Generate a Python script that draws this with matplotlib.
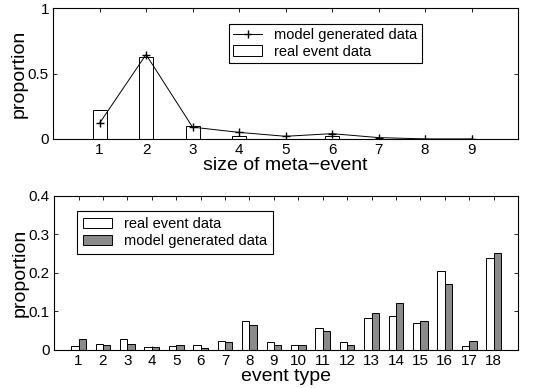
import numpy as np
import matplotlib
matplotlib.use('Agg')
import matplotlib.pyplot as plt

plt.rcParams['font.family'] = ['Liberation Sans', 'DejaVu Sans']

# top panel: size of meta-event
sizes = [1, 2, 3, 4, 5, 6, 7, 8, 9]
real_size = [0.22, 0.63, 0.10, 0.025, 0.0, 0.025, 0.0, 0.0, 0.0]
model_size = [0.12, 0.645, 0.09, 0.05, 0.02, 0.04, 0.01, 0.0, 0.0]

# bottom panel: event type
types = list(range(1, 19))
real_type = [0.011, 0.016, 0.029, 0.009, 0.010, 0.014, 0.023, 0.076, 0.021,
             0.012, 0.058, 0.022, 0.084, 0.088, 0.070, 0.204, 0.010, 0.238]
model_type = [0.028, 0.014, 0.015, 0.008, 0.013, 0.005, 0.020, 0.064, 0.012,
              0.014, 0.049, 0.014, 0.095, 0.121, 0.076, 0.171, 0.023, 0.252]

fig = plt.figure(figsize=(5.47, 3.88), dpi=100)
ax1 = fig.add_axes([0.097, 0.642, 0.850, 0.337])
ax2 = fig.add_axes([0.099, 0.098, 0.848, 0.397])

for ax in (ax1, ax2):
    ax.tick_params(direction='in', top=True, right=True, labelsize=11, length=3,
                   width=0.6, pad=3)
    for s in ax.spines.values():
        s.set_linewidth(0.8)

# top
ax1.bar(sizes, real_size, width=0.3, facecolor='white', edgecolor='black',
        linewidth=0.7, label='real event data', zorder=2)
ax1.plot(sizes, model_size, color='black', marker='+', markersize=6, lw=0.7,
         label='model generated data', zorder=3)
ax1.set_xlim(0, 10)
ax1.set_ylim(0, 1)
ax1.set_xticks(sizes)
ax1.set_yticks([0, 0.5, 1])
ax1.set_yticklabels(['0', '0.5', '1'])
ax1.set_xlabel('size of meta\u2212event', fontsize=14, labelpad=0)
ax1.set_ylabel('proportion', fontsize=14, labelpad=0)
leg = ax1.legend(loc='upper left', bbox_to_anchor=(0.378, 0.878),
                 borderaxespad=0, fancybox=False, edgecolor='black', framealpha=1,
                 fontsize=10.5, handlelength=2.0, borderpad=0.3, labelspacing=0.15)
leg.get_frame().set_linewidth(0.8)

# bottom
x = np.array(types)
ax2.bar(x - 0.15, real_type, width=0.3, facecolor='white', edgecolor='black',
        linewidth=0.7, label='real event data')
ax2.bar(x + 0.15, model_type, width=0.3, facecolor='#8a8a8a', edgecolor='black',
        linewidth=0.7, label='model generated data')
ax2.set_xlim(0, 19)
ax2.set_ylim(0, 0.4)
ax2.set_xticks(types)
ax2.set_yticks([0, 0.1, 0.2, 0.3, 0.4])
ax2.set_yticklabels(['0', '0.1', '0.2', '0.3', '0.4'])
ax2.set_xlabel('event type', fontsize=14, labelpad=0)
ax2.set_ylabel('proportion', fontsize=14, labelpad=0)
leg2 = ax2.legend(loc='upper left', bbox_to_anchor=(0.05, 0.903), borderaxespad=0,
                  fancybox=False, edgecolor='black', framealpha=1, fontsize=10.5,
                  handlelength=2.0, borderpad=0.4, labelspacing=0.25)
leg2.get_frame().set_linewidth(0.8)

fig.savefig('out.png', dpi=100)
